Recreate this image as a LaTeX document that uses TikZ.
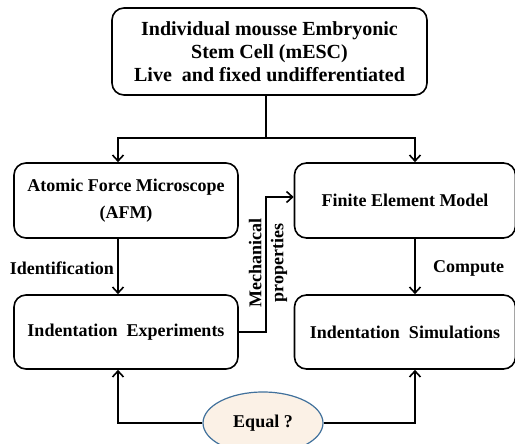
\documentclass[tikz,border=0pt]{standalone}
\usepackage{fontspec}
\setmainfont{Liberation Serif}
\usetikzlibrary{arrows.meta,shapes.geometric}
\definecolor{eqfill}{HTML}{FBF1E6}
\definecolor{eqdraw}{HTML}{41719C}
\begin{document}
\begin{tikzpicture}[x=1pt,y=-1pt,
  box/.style={draw,line width=1.6pt,rounded corners=12pt,align=center,font=\bfseries,inner sep=0pt},
  conn/.style={line width=2pt},
  arr/.style={conn,-{Straight Barb[length=6pt,width=11pt,line width=1.6pt]}},
  lbl/.style={font=\bfseries\fontsize{18}{21}\selectfont}]
\useasboundingbox (0,0) rectangle (515,444);
\node[box,minimum width=315pt,minimum height=87pt,font=\bfseries\fontsize{20}{23}\selectfont] (top) at (269.5,51.5) {Individual mousse Embryonic\\Stem Cell (mESC)\\Live\ \ and fixed undifferentiated};
\node[box,minimum width=224pt,minimum height=75pt,font=\bfseries\fontsize{18}{27}\selectfont] (afm) at (126,200.5) {Atomic Force Microscope\\(AFM)};
\node[box,minimum width=221pt,minimum height=75pt,font=\bfseries\fontsize{18}{27}\selectfont] (fem) at (405,200.5) {Finite Element Model};
\node[box,minimum width=224pt,minimum height=74pt,font=\bfseries\fontsize{18}{27}\selectfont] (ie) at (126,332) {Indentation\ \ Experiments};
\node[box,minimum width=221pt,minimum height=74pt,font=\bfseries\fontsize{18}{27}\selectfont] (is) at (405,332) {Indentation\ \ Simulations};
\node[ellipse,draw=eqdraw,fill=eqfill,line width=1.2pt,minimum width=120pt,minimum height=62pt,font=\bfseries\fontsize{18}{21}\selectfont,inner sep=0pt] (eq) at (263,423) {Equal ?};
\coordinate (split) at (266,138);
\coordinate (ml) at (118,138);
\coordinate (mr) at (415,138);
\draw[conn] (top.south -| split) -- (split);
\draw[arr] (split) -- (ml) -- (ml |- afm.north);
\draw[arr] (split) -- (mr) -- (mr |- fem.north);
\draw[arr] (ml |- afm.south) -- (ml |- ie.north);
\draw[arr] (mr |- fem.south) -- (mr |- is.north);
\node[lbl,anchor=east,inner sep=0pt] (idl) at (114,268) {Identification};
\node[lbl,anchor=west,inner sep=0pt] (cml) at (433,268) {Compute};
\coordinate (mp) at (266,332);
\coordinate (mq) at (266,197);
\draw[arr] (ie.east |- mp) -- (mp) -- (mq) -- (fem.west |- mq);
\node[rotate=90,align=center,font=\bfseries\fontsize{18}{22}\selectfont,inner sep=0pt] (mech) at (268,263) {Mechanical\\properties};
\draw[arr] (eq.west) -- (ml |- eq.west) -- (ml |- ie.south);
\draw[arr] (eq.east) -- (mr |- eq.east) -- (mr |- is.south);
\end{tikzpicture}
\end{document}
